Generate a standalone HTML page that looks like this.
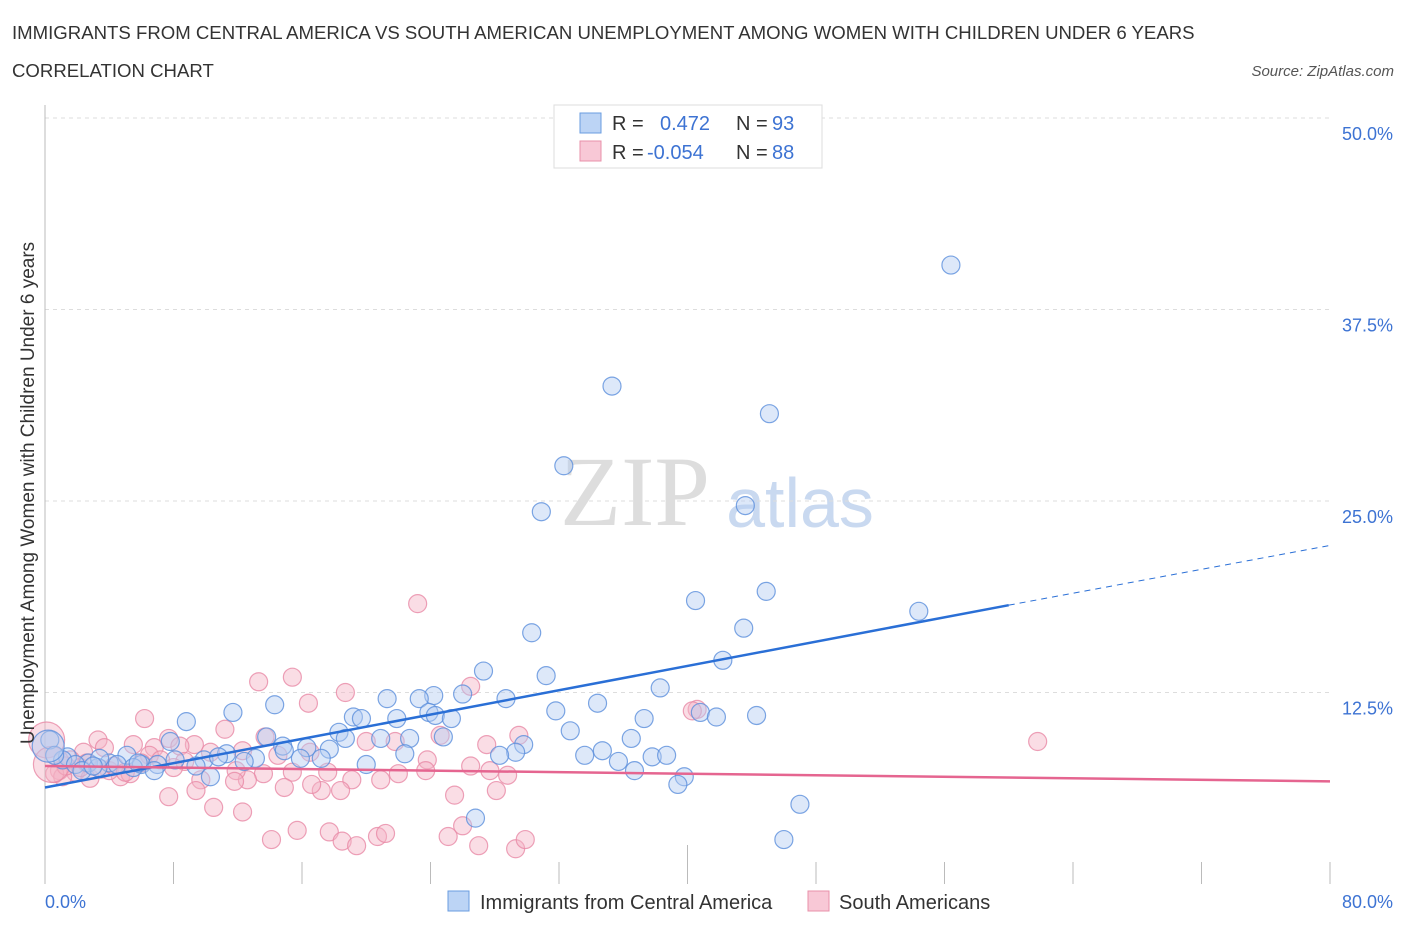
<!DOCTYPE html>
<html><head><meta charset="utf-8"><style>
body{margin:0;background:#fff;font-family:"Liberation Sans",sans-serif;}
svg{display:block}
</style></head><body>
<svg width="1406" height="930" xmlns="http://www.w3.org/2000/svg" id="chart">
<text x="12" y="39" font-size="18.6" fill="#333">IMMIGRANTS FROM CENTRAL AMERICA VS SOUTH AMERICAN UNEMPLOYMENT AMONG WOMEN WITH CHILDREN UNDER 6 YEARS</text>
<text x="12" y="77" font-size="18.6" fill="#333">CORRELATION CHART</text>
<text x="1394" y="76" font-size="15" fill="#555" font-style="italic" text-anchor="end">Source: ZipAtlas.com</text>
<text x="635" y="525" font-size="100" fill="#ddd" font-family="Liberation Serif,serif" text-anchor="middle">ZIP</text>
<text x="800" y="527" font-size="70" fill="#c9d9f0" text-anchor="middle">atlas</text>
<g id="grid"></g>
<g id="axes"></g>
<g id="pts"></g>
<g id="lines"></g>
<text transform="translate(34,493) rotate(-90)" font-size="19" fill="#333" text-anchor="middle">Unemployment Among Women with Children Under 6 years</text>
<g>
<rect x="554" y="105" width="268" height="63" fill="#fff" stroke="#ddd"/>
<rect x="580" y="113" width="21" height="20" fill="#bcd4f5" stroke="#6a9ce0"/>
<rect x="580" y="141" width="21" height="20" fill="#f8c8d6" stroke="#e890aa"/>
<text x="612" y="130" font-size="20" fill="#333">R =</text><text x="660" y="130" font-size="20" fill="#3d73d3">0.472</text>
<text x="736" y="130" font-size="20" fill="#333">N =</text><text x="772" y="130" font-size="20" fill="#3d73d3">93</text>
<text x="612" y="159" font-size="20" fill="#333">R =</text><text x="647" y="159" font-size="20" fill="#3d73d3">-0.054</text>
<text x="736" y="159" font-size="20" fill="#333">N =</text><text x="772" y="159" font-size="20" fill="#3d73d3">88</text>
</g>
<g>
<rect x="448" y="891" width="21" height="20" fill="#bcd4f5" stroke="#6a9ce0"/>
<text x="480" y="909" font-size="20" fill="#333">Immigrants from Central America</text>
<rect x="808" y="891" width="21" height="20" fill="#f8c8d6" stroke="#e890aa"/>
<text x="839" y="909" font-size="20" fill="#333">South Americans</text>
</g>
</svg>
<script>
const xTicks=[0,8,16,24,32,40,48,56,64,72,80];
const yTicks=[12.5,25,37.5,50];
const yTickLabels=["12.5%","25.0%","37.5%","50.0%"];
const blueX=[56.4,35.3,45.1,32.3,30.9,43.6,44.9,40.5,54.4,30.3,43.5,42.2,27.3,31.2,38.3,26.0,24.2,28.7,23.3,21.3,34.4,14.3,11.7,31.8,40.8,41.8,44.3,37.3,23.9,24.3,25.3,19.2,19.7,21.9,8.8,32.7,18.3,18.7,20.9,22.7,24.8,13.8,36.5,29.8,33.6,34.7,17.7,14.8,16.3,7.8,29.3,22.4,37.8,38.7,35.7,11.3,13.1,15.9,9.9,17.2,5.1,1.4,1.1,4.0,6.0,2.7,1.9,3.3,9.4,4.5,7.0,12.4,36.7,20.0,39.8,39.4,10.3,6.8,5.5,0.3,47.0,46.0,26.8,3.4,14.9,28.3,0.6,2.3,8.1,3.0,5.8,10.8,0.2];
const blueY=[40.4,32.5,30.7,27.3,24.3,24.7,19.1,18.5,17.8,16.4,16.7,14.6,13.9,13.6,12.8,12.4,12.3,12.1,12.1,12.1,11.8,11.7,11.2,11.3,11.2,10.9,11.0,10.8,11.2,11.0,10.8,10.9,10.8,10.8,10.6,10.0,9.9,9.5,9.5,9.5,9.6,9.6,9.5,9.1,8.4,8.7,8.8,9.0,8.9,9.3,8.6,8.5,8.3,8.4,8.0,8.5,8.2,8.2,8.1,8.2,8.4,8.3,8.1,7.9,7.8,7.9,7.8,7.6,7.7,7.8,7.8,8.0,7.4,7.8,7.0,6.5,7.0,7.4,7.6,9.4,5.2,2.9,4.3,8.2,8.7,8.4,8.4,7.4,8.1,7.7,7.9,8.3,9.0];
const pinkX=[23.2,15.4,13.3,18.7,26.5,16.4,11.2,40.6,40.3,61.8,6.2,3.3,9.3,7.7,10.3,6.8,5.5,8.4,3.7,2.4,6.5,12.3,13.7,8.7,14.5,16.5,20.0,21.8,29.5,27.5,23.8,24.6,27.7,23.7,26.5,28.8,22.0,19.1,20.9,13.6,12.6,11.9,15.4,17.6,17.2,16.6,14.9,18.4,11.8,7.7,9.7,9.4,10.5,12.3,14.1,15.7,17.7,18.5,19.4,20.7,21.2,25.1,26.0,27.0,29.3,29.9,25.5,28.1,0.9,1.9,4.7,1.1,2.8,4.0,5.3,7.2,1.6,2.2,3.5,4.3,6.0,8.0,0.6,1.3,2.6,5.0,0.1,0.4];
const pinkY=[18.3,13.5,13.2,12.5,12.9,11.8,10.1,11.4,11.3,9.3,10.8,9.4,9.1,9.5,8.6,8.9,9.1,9.0,8.9,8.6,8.4,8.7,9.6,8.0,8.4,8.6,9.3,9.3,9.7,9.1,8.1,9.7,7.4,7.4,7.7,7.1,7.2,6.8,6.8,7.2,6.8,7.4,7.3,7.3,6.1,6.5,6.3,6.1,6.7,5.7,6.8,6.1,5.0,4.7,2.9,3.5,3.4,2.8,2.5,3.1,3.3,3.1,3.8,2.5,2.3,2.9,5.8,6.1,7.4,7.3,7.0,7.0,6.9,7.4,7.2,8.1,8.1,7.6,7.5,7.7,7.9,7.6,7.2,7.7,7.9,7.3,9.4,7.8];
const blueTrend=[[0,6.3],[60,18.2],[80,22.1]];
const pinkTrend=[[0,7.7],[80,6.7]];
const NS="http://www.w3.org/2000/svg";
const X0=45,X1=1330,Y0=884,Y1=118;
function sx(v){return X0+(X1-X0)*v/80;}
function sy(v){return Y0-(Y0-Y1)*v/50;}
function mk(tag,attrs,parent){const e=document.createElementNS(NS,tag);for(const k in attrs)e.setAttribute(k,attrs[k]);parent.appendChild(e);return e;}
const grid=document.getElementById('grid'),axes=document.getElementById('axes'),pts=document.getElementById('pts'),lines=document.getElementById('lines');
yTicks.forEach((t,i)=>{
 const l=mk('line',{x1:X0,x2:X1,y1:sy(t),y2:sy(t),stroke:'#ddd','stroke-dasharray':'4,4'},grid);
 
 
 const tx=mk('text',{x:1393,y:sy(t)+22,'font-size':18,fill:'#3d73d3','text-anchor':'end'},axes);
 tx.textContent=yTickLabels[i];
 
 
});
const ya=mk('line',{x1:X0,x2:X0,y1:105,y2:Y0,stroke:'#bbb'},axes);


xTicks.forEach(t=>{
 const tl=mk('line',{x1:sx(t),x2:sx(t),y1:(t===40?845:862),y2:Y0,stroke:'#bbb'},axes);
 
 
});
const xl0=mk('text',{x:45,y:908,'font-size':18,fill:'#3d73d3'},axes);xl0.textContent=xTicks[0].toFixed(1)+'%';


const xl1=mk('text',{x:1393,y:908,'font-size':18,fill:'#3d73d3','text-anchor':'end'},axes);xl1.textContent=xTicks[xTicks.length-1].toFixed(1)+'%';


function dots(xs,ys,fill,stroke,name){
 xs.forEach((x,i)=>{
  const r=(name==='pink-point'&&i>=xs.length-2)?18:(name==='blue-point'&&i===xs.length-1?16:9);
  const c=mk('circle',{cx:sx(x),cy:sy(ys[i]),r:r,fill:fill,'fill-opacity':0.45,stroke:stroke,'stroke-width':1.2,'stroke-opacity':0.8},pts);
  
  
 });
}
dots(pinkX,pinkY,'#f5b3c6','#e98aa6','pink-point');
dots(blueX,blueY,'#b3cdf2','#5b8fdc','blue-point');
const b1=mk('line',{x1:sx(blueTrend[0][0]),y1:sy(blueTrend[0][1]),x2:sx(blueTrend[1][0]),y2:sy(blueTrend[1][1]),stroke:'#2a6fd6','stroke-width':2.5},lines);


const b2=mk('line',{x1:sx(blueTrend[1][0]),y1:sy(blueTrend[1][1]),x2:sx(blueTrend[2][0]),y2:sy(blueTrend[2][1]),stroke:'#2a6fd6','stroke-width':1,'stroke-dasharray':'6,5'},lines);


const p1=mk('line',{x1:sx(pinkTrend[0][0]),y1:sy(pinkTrend[0][1]),x2:sx(pinkTrend[1][0]),y2:sy(pinkTrend[1][1]),stroke:'#e56590','stroke-width':2.5},lines);


</script>
</body></html>
